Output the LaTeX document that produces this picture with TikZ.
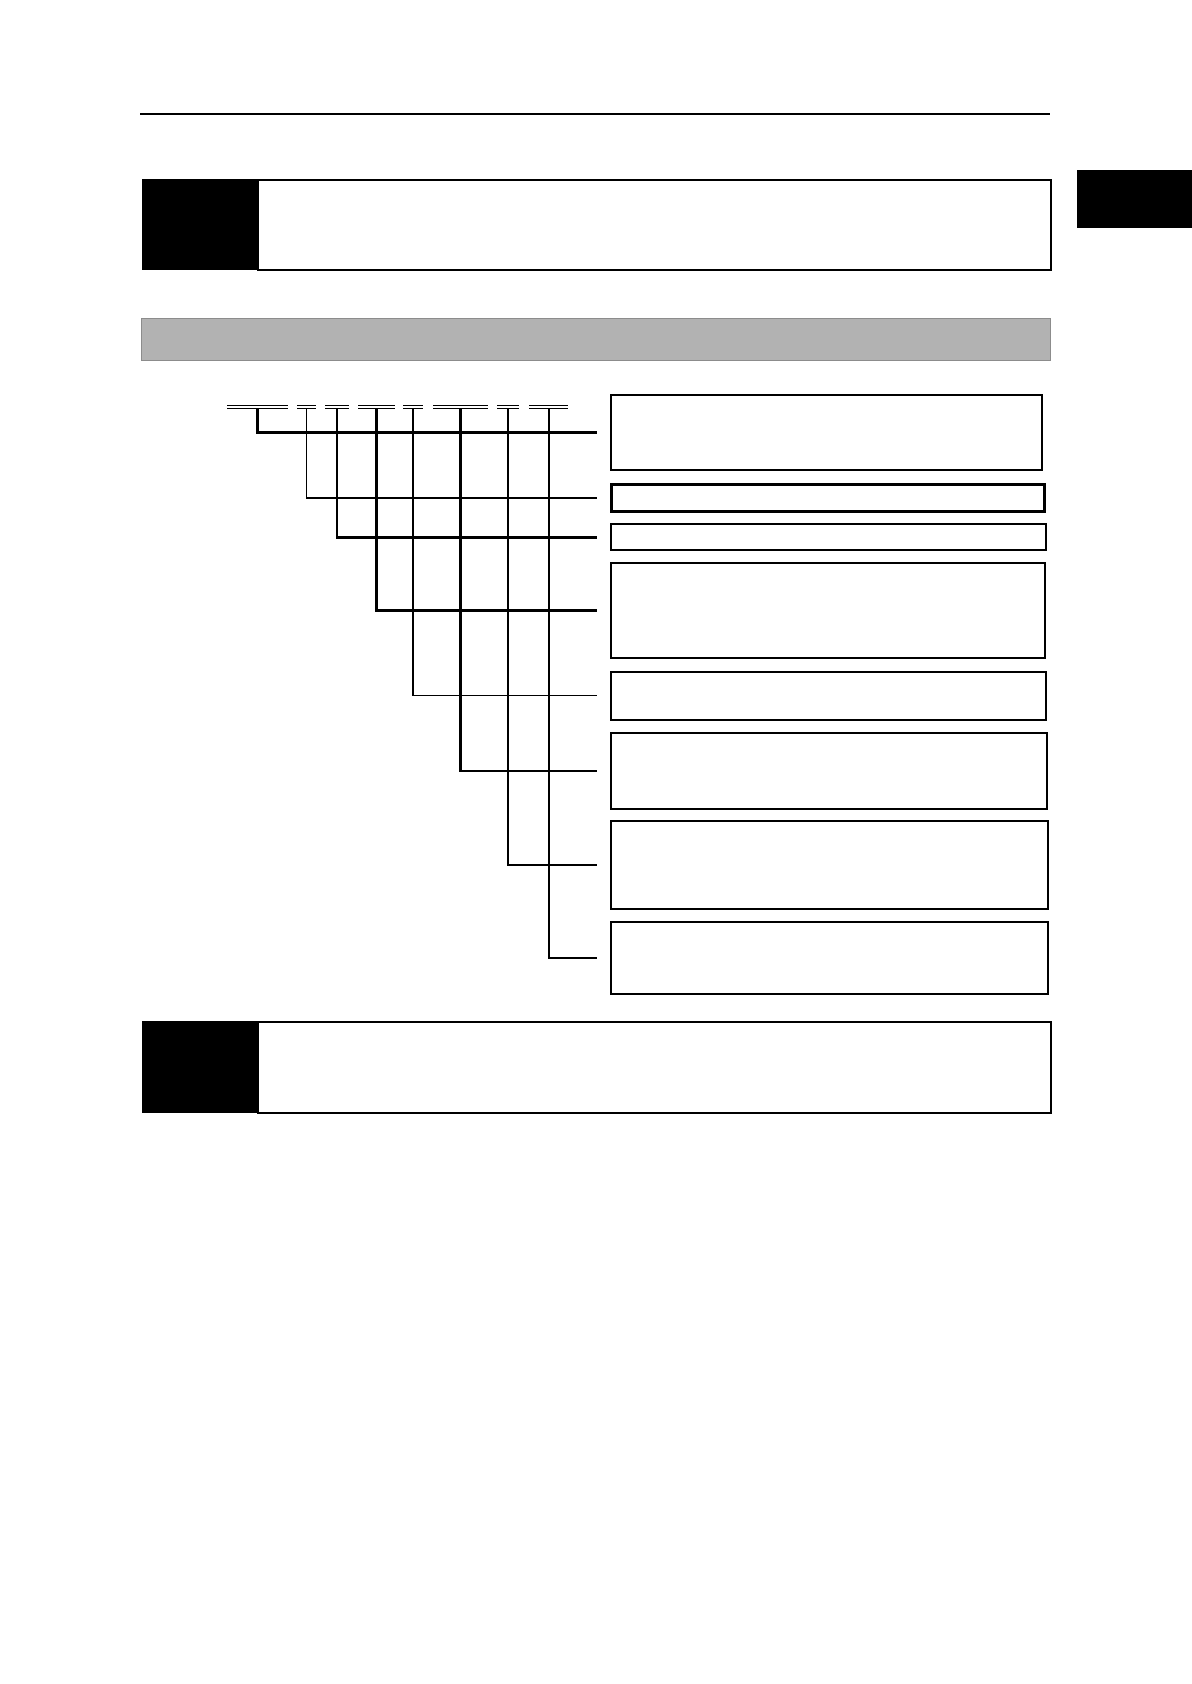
\documentclass[tikz,border=0pt]{standalone}
\usetikzlibrary{positioning}
\begin{document}
\begin{tikzpicture}[x=0.5pt, y=-0.5pt,
    field/.style={draw=black, inner sep=0pt, anchor=north west},
    link/.style={line width=#1, shorten >=6.5pt, shorten <=1pt},
    codeline/.style={double, line width=0.5pt, double distance=1.4pt}]
    \useasboundingbox (0,0) rectangle (1191,1684);
    % page header
    \draw[line width=0.6pt] (140,114) -- (1050,114);
    \node[field, fill=black, minimum width=57pt, minimum height=28.5pt] (tab) at (1077,170) {};
    % note box, top
    \node[field, fill=black, minimum width=57.5pt, minimum height=45pt] (tagA) at (142,179) {};
    \node[field, line width=1pt, minimum width=396.5pt, minimum height=45pt] (noteA) at (257,179) {};
    % section bar
    \node[field, fill=black!30, draw=black!45, line width=0.6pt, minimum width=454.5pt, minimum height=21pt] (bar) at (141,318) {};
    % code fields
    \draw[codeline] (227,407) -- (288,407) coordinate[midway] (c1);
    \draw[codeline] (297,407) -- (316,407) coordinate[midway] (c2);
    \draw[codeline] (325,407) -- (349,407) coordinate[midway] (c3);
    \draw[codeline] (358,407) -- (395,407) coordinate[midway] (c4);
    \draw[codeline] (403,407) -- (423,407) coordinate[midway] (c5);
    \draw[codeline] (433,407) -- (488,407) coordinate[midway] (c6);
    \draw[codeline] (497,407) -- (519,407) coordinate[midway] (c7);
    \draw[codeline] (529,407) -- (568,407) coordinate[midway] (c8);
    % field boxes
    \node[field, line width=1pt, minimum width=215.5pt, minimum height=37.5pt] (f1) at (610,394) {};
    \node[field, line width=1.5pt, minimum width=216.5pt, minimum height=13.5pt] (f2) at (610,483) {};
    \node[field, line width=1.2pt, minimum width=217.5pt, minimum height=13pt] (f3) at (610,523) {};
    \node[field, line width=1.2pt, minimum width=217pt, minimum height=47.5pt] (f4) at (610,562) {};
    \node[field, line width=0.8pt, minimum width=217.5pt, minimum height=24pt] (f5) at (610,671) {};
    \node[field, line width=1pt, minimum width=218pt, minimum height=38pt] (f6) at (610,732) {};
    \node[field, line width=0.8pt, minimum width=218.5pt, minimum height=44pt] (f7) at (610,820) {};
    \node[field, line width=0.8pt, minimum width=218.5pt, minimum height=36pt] (f8) at (610,921) {};
    % connectors
    \draw[link=1.5pt] (c1) |- (f1.west);
    \draw[link=0.6pt] (c2) |- (f2.west);
    \draw[link=1.3pt] (c3) |- (f3.west);
    \draw[link=1.3pt] (c4) |- (f4.west);
    \draw[link=0.6pt] (c5) |- (f5.west);
    \draw[link=1.3pt] (c6) |- (f6.west);
    \draw[link=1.3pt] (c7) |- (f7.west);
    \draw[link=1pt] (c8) |- (f8.west);
    % note box, bottom
    \node[field, fill=black, minimum width=57.5pt, minimum height=45.5pt] (tagB) at (142,1021) {};
    \node[field, line width=1pt, minimum width=396.5pt, minimum height=45.5pt] (noteB) at (257,1021) {};
\end{tikzpicture}
\end{document}
